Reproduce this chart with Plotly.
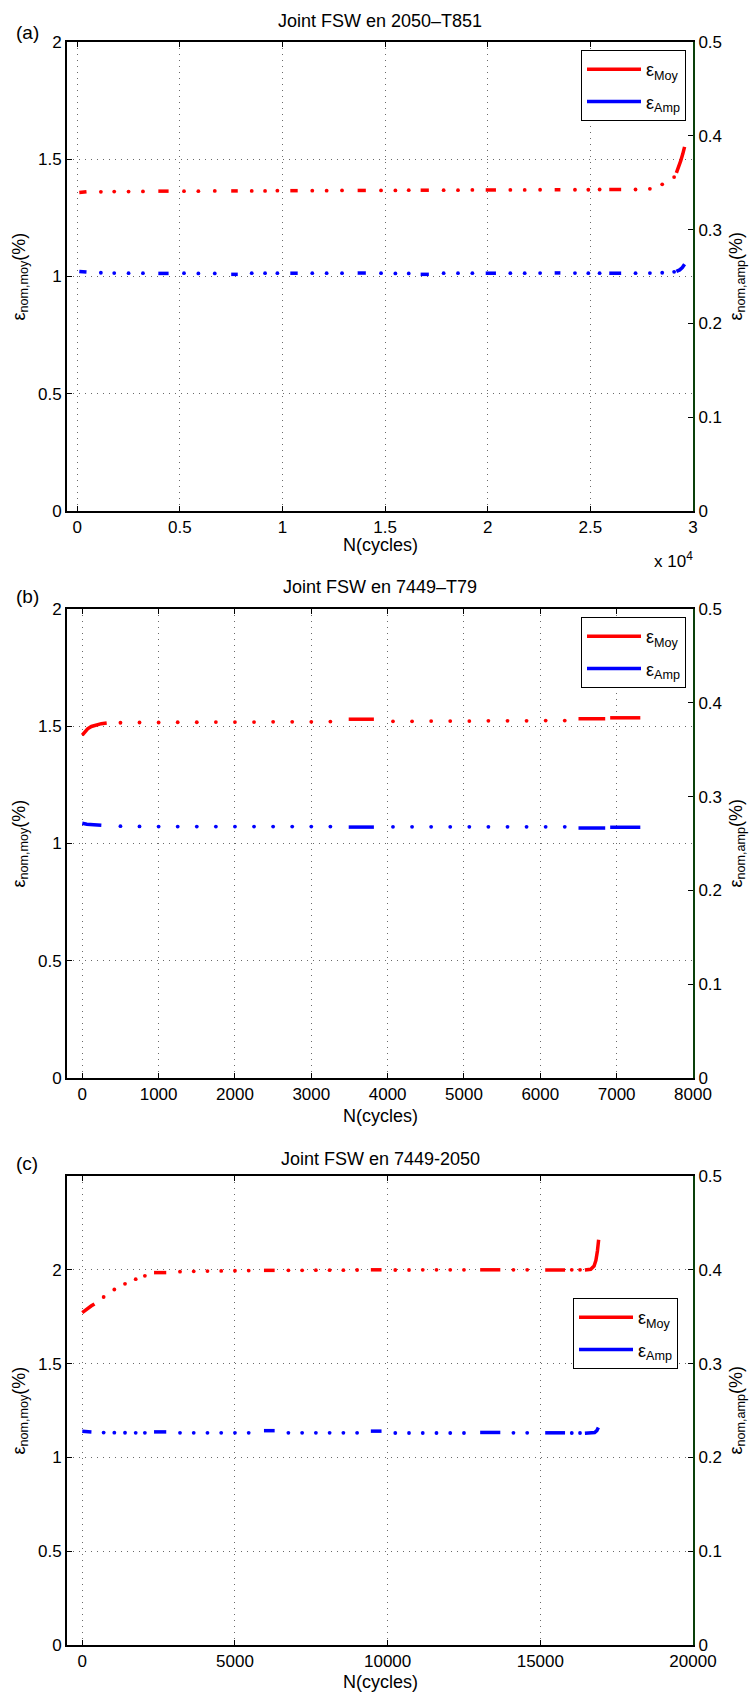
import plotly.graph_objects as go

# ======================= DATA =======================
# ---- Panel (a): Joint FSW en 2050–T851 ----
A_X_TICKS = [0, 5000, 10000, 15000, 20000, 25000, 30000]
A_X_TICKTEXT = ["0", "0.5", "1", "1.5", "2", "2.5", "3"]
A_DOT_N = [1150, 1800, 2500, 3200, 5200, 5900, 6700, 8500, 9150, 9750, 11450, 12150, 12900,
           14800, 15500, 16150, 17850, 18550, 19250, 21100, 21800, 22550, 24250, 24900, 25450,
           27200, 27900, 28500, 29080]
A_MOY_DOT_V = [1.361, 1.362, 1.362, 1.363, 1.364, 1.364, 1.365, 1.365, 1.365, 1.366, 1.366, 1.366, 1.367,
               1.367, 1.367, 1.368, 1.368, 1.368, 1.369, 1.369, 1.369, 1.370, 1.370, 1.370, 1.371,
               1.371, 1.374, 1.393, 1.424]
A_AMP_DOT_V = [0.2540, 0.2537, 0.2535, 0.2535, 0.2535, 0.2533, 0.2533, 0.2535, 0.2535, 0.2535, 0.2535, 0.2535, 0.2535,
               0.2535, 0.2533, 0.2533, 0.2535, 0.2535, 0.2535, 0.2535, 0.2535, 0.2537, 0.2537, 0.2535, 0.2535,
               0.2535, 0.2537, 0.2540, 0.2550]
A_RUN_N0 = [3950, 7500, 10380, 13660, 16730, 19900, 23260, 25920]
A_RUN_N1 = [4450, 7820, 10740, 14060, 17130, 20400, 23540, 26500]
A_MOY_RUN_V = [1.364, 1.365, 1.366, 1.367, 1.368, 1.369, 1.370, 1.371]
A_AMP_RUN_V = [0.2533, 0.2523, 0.2535, 0.2537, 0.2523, 0.2535, 0.2538, 0.2535]
A_MOY_HEAD_N = [100, 250, 450]
A_MOY_HEAD_V = [1.358, 1.360, 1.361]
A_AMP_HEAD_N = [100, 250, 450]
A_AMP_HEAD_V = [0.2553, 0.2550, 0.2547]
A_MOY_TAIL_N = [29190, 29300, 29400, 29500, 29590]
A_MOY_TAIL_V = [1.442, 1.465, 1.493, 1.522, 1.553]
A_AMP_TAIL_N = [29190, 29350, 29480, 29590]
A_AMP_TAIL_V = [0.2555, 0.2570, 0.2595, 0.2630]

# ---- Panel (b): Joint FSW en 7449–T79 ----
B_X_TICKS = [0, 1000, 2000, 3000, 4000, 5000, 6000, 7000, 8000]
B_X_TICKTEXT = ["0", "1000", "2000", "3000", "4000", "5000", "6000", "7000", "8000"]
B_DOT_N = [500, 750, 1000, 1250, 1500, 1750, 2000, 2250, 2500, 2750, 3000, 3250,
           4070, 4320, 4570, 4820, 5070, 5320, 5570, 5820, 6070, 6320]
B_MOY_DOT_V = [1.515, 1.516, 1.516, 1.517, 1.517, 1.518, 1.518, 1.518, 1.519, 1.519, 1.519, 1.520,
               1.521, 1.521, 1.522, 1.522, 1.522, 1.523, 1.523, 1.523, 1.524, 1.524]
B_AMP_DOT_V = [0.2685, 0.2682, 0.2680, 0.2680, 0.2680, 0.2680, 0.2680, 0.2680, 0.2680, 0.2680, 0.2680, 0.2680,
               0.2678, 0.2678, 0.2678, 0.2678, 0.2678, 0.2678, 0.2678, 0.2678, 0.2678, 0.2678]
B_RUN_N0 = [3490, 6500, 6915]
B_RUN_N1 = [3820, 6850, 7310]
B_MOY_RUN_V = [1.530, 1.532, 1.536]
B_AMP_RUN_V = [0.2675, 0.2665, 0.2673]
B_MOY_HEAD_N = [0, 30, 70, 120, 180, 250, 320]
B_MOY_HEAD_V = [1.462, 1.476, 1.489, 1.499, 1.506, 1.511, 1.514]
B_AMP_HEAD_N = [0, 60, 150, 250]
B_AMP_HEAD_V = [0.2715, 0.2705, 0.2700, 0.2695]
B_MOY_TAIL_N = []
B_MOY_TAIL_V = []
B_AMP_TAIL_N = []
B_AMP_TAIL_V = []

# ---- Panel (c): Joint FSW en 7449-2050 ----
C_X_TICKS = [0, 5000, 10000, 15000, 20000]
C_X_TICKTEXT = ["0", "5000", "10000", "15000", "20000"]
C_DOT_N = [700, 1050, 1400, 1750, 2050,
           3200, 3650, 4100, 4550, 5000, 5450,
           6750, 7200, 7650, 8100, 8550, 9000,
           10250, 10700, 11150, 11600, 12050, 12500,
           14120, 14570, 16030, 16300]
C_MOY_DOT_V = [1.855, 1.895, 1.925, 1.950, 1.968,
               1.990, 1.992, 1.993, 1.994, 1.995, 1.996,
               1.997, 1.997, 1.998, 1.998, 1.998, 1.999,
               1.999, 1.999, 2.000, 2.000, 2.000, 2.000,
               2.000, 2.000, 2.000, 2.000]
C_AMP_DOT_V = [0.2265, 0.2264, 0.2263, 0.2262, 0.2262,
               0.2262, 0.2262, 0.2262, 0.2262, 0.2262, 0.2262,
               0.2262, 0.2262, 0.2262, 0.2262, 0.2262, 0.2262,
               0.2260, 0.2260, 0.2260, 0.2260, 0.2260, 0.2260,
               0.2262, 0.2262, 0.2260, 0.2260]
C_RUN_N0 = [2350, 5950, 9450, 13030, 15160]
C_RUN_N1 = [2750, 6300, 9800, 13690, 15810]
C_MOY_RUN_V = [1.985, 1.997, 2.000, 2.000, 1.999]
C_AMP_RUN_V = [0.2272, 0.2285, 0.2280, 0.2266, 0.2262]
C_MOY_HEAD_N = [0, 100, 200, 300, 400]
C_MOY_HEAD_V = [1.772, 1.786, 1.798, 1.808, 1.818]
C_AMP_HEAD_N = [0, 150, 300]
C_AMP_HEAD_V = [0.2278, 0.2275, 0.2272]
C_MOY_TAIL_N = [16460, 16650, 16760, 16820, 16870, 16910]
C_MOY_TAIL_V = [1.999, 2.003, 2.020, 2.050, 2.100, 2.160]
C_AMP_TAIL_N = [16460, 16650, 16780, 16850, 16900]
C_AMP_TAIL_V = [0.2258, 0.2258, 0.2265, 0.2285, 0.2318]

TITLES = ["Joint FSW en 2050\u2013T851", "Joint FSW en 7449\u2013T79", "Joint FSW en 7449-2050"]
PANEL_LABELS = ["(a)", "(b)", "(c)"]
LEFT_TICKS = [0, 0.5, 1, 1.5, 2]
LEFT_TICKTEXT = ["0", "0.5", "1", "1.5", "2"]
RIGHT_TICKS = [0, 0.1, 0.2, 0.3, 0.4, 0.5]
RIGHT_TICKTEXT = ["0", "0.1", "0.2", "0.3", "0.4", "0.5"]
NAME_MOY = "\u03b5<sub>Moy</sub>"
NAME_AMP = "\u03b5<sub>Amp</sub>"
X_TITLE = "N(cycles)"
YL_TITLE = "\u03b5<sub>nom,moy</sub>(%)"
YR_TITLE = "\u03b5<sub>nom,amp</sub>(%)"

# ======================= STYLE / LAYOUT =======================
W, H = 750, 1695
FONT = "Liberation Sans, Arial, Helvetica, sans-serif"
RED = "#ff0000"
BLUE = "#0000ff"
GREEN = "#0a400a"
GRID = "#6a6a6a"
PLOT_LEFT, PLOT_RIGHT = 67, 693
PANEL_TOP = [42, 609, 1176]
PANEL_H = 469
X_RANGES = [[-500, 30000], [-200, 8000], [-500, 20000]]
LEFT_MAX = [2.0, 2.0, 2.5]
LEGEND_BOX = [(686, 50), (686, 617), (678, 1298)]  # right, top in px
TITLE_Y = [21, 587, 1159]
LABEL_Y = [32, 597, 1163]
XTITLE_Y = [545, 1116, 1682]
YL_TITLE_X = 20
YR_TITLE_X = 737
TICK_SIZE = 17
TEXT_SIZE = 18


def py(p):
    return 1 - p / H


def px(p):
    return p / W


def line_xy(head_n, head_v, n0, n1, v, tail_n, tail_v):
    xs, ys = list(head_n), list(head_v)
    xs.append(None)
    ys.append(None)
    for a, b, val in zip(n0, n1, v):
        xs += [a, b, None]
        ys += [val, val, None]
    xs += list(tail_n)
    ys += list(tail_v)
    return xs, ys


panels = [
    dict(xt=A_X_TICKS, xtt=A_X_TICKTEXT, dn=A_DOT_N, mdv=A_MOY_DOT_V, adv=A_AMP_DOT_V,
         r0=A_RUN_N0, r1=A_RUN_N1, mrv=A_MOY_RUN_V, arv=A_AMP_RUN_V,
         mhn=A_MOY_HEAD_N, mhv=A_MOY_HEAD_V, ahn=A_AMP_HEAD_N, ahv=A_AMP_HEAD_V,
         mtn=A_MOY_TAIL_N, mtv=A_MOY_TAIL_V, atn=A_AMP_TAIL_N, atv=A_AMP_TAIL_V),
    dict(xt=B_X_TICKS, xtt=B_X_TICKTEXT, dn=B_DOT_N, mdv=B_MOY_DOT_V, adv=B_AMP_DOT_V,
         r0=B_RUN_N0, r1=B_RUN_N1, mrv=B_MOY_RUN_V, arv=B_AMP_RUN_V,
         mhn=B_MOY_HEAD_N, mhv=B_MOY_HEAD_V, ahn=B_AMP_HEAD_N, ahv=B_AMP_HEAD_V,
         mtn=B_MOY_TAIL_N, mtv=B_MOY_TAIL_V, atn=B_AMP_TAIL_N, atv=B_AMP_TAIL_V),
    dict(xt=C_X_TICKS, xtt=C_X_TICKTEXT, dn=C_DOT_N, mdv=C_MOY_DOT_V, adv=C_AMP_DOT_V,
         r0=C_RUN_N0, r1=C_RUN_N1, mrv=C_MOY_RUN_V, arv=C_AMP_RUN_V,
         mhn=C_MOY_HEAD_N, mhv=C_MOY_HEAD_V, ahn=C_AMP_HEAD_N, ahv=C_AMP_HEAD_V,
         mtn=C_MOY_TAIL_N, mtv=C_MOY_TAIL_V, atn=C_AMP_TAIL_N, atv=C_AMP_TAIL_V),
]

fig = go.Figure()
layout = dict(
    width=W, height=H,
    margin=dict(l=0, r=0, t=0, b=0),
    paper_bgcolor="white", plot_bgcolor="white",
    font=dict(family=FONT, size=TICK_SIZE, color="black"),
    annotations=[],
)

for i, p in enumerate(panels):
    xid = "x" if i == 0 else f"x{i + 1}"
    yl_n = 2 * i + 1
    yr_n = 2 * i + 2
    ylid = "y" if yl_n == 1 else f"y{yl_n}"
    yrid = f"y{yr_n}"
    leg = "legend" if i == 0 else f"legend{i + 1}"

    mx, my = line_xy(p["mhn"], p["mhv"], p["r0"], p["r1"], p["mrv"], p["mtn"], p["mtv"])
    ax_, ay_ = line_xy(p["ahn"], p["ahv"], p["r0"], p["r1"], p["arv"], p["atn"], p["atv"])

    fig.add_trace(go.Scatter(x=mx, y=my, mode="lines", name=NAME_MOY,
                             line=dict(color=RED, width=3.5), xaxis=xid, yaxis=ylid,
                             legend=leg, legendgroup=f"moy{i}", connectgaps=False,
                             hoverinfo="skip"))
    fig.add_trace(go.Scatter(x=ax_, y=ay_, mode="lines", name=NAME_AMP,
                             line=dict(color=BLUE, width=3.5), xaxis=xid, yaxis=yrid,
                             legend=leg, legendgroup=f"amp{i}", connectgaps=False,
                             hoverinfo="skip"))
    fig.add_trace(go.Scatter(x=p["dn"], y=p["mdv"], mode="markers", showlegend=False,
                             legendgroup=f"moy{i}",
                             marker=dict(color=RED, size=3.8), xaxis=xid, yaxis=ylid))
    fig.add_trace(go.Scatter(x=p["dn"], y=p["adv"], mode="markers", showlegend=False,
                             legendgroup=f"amp{i}",
                             marker=dict(color=BLUE, size=3.8), xaxis=xid, yaxis=yrid))

    top = PANEL_TOP[i]
    ydom = [py(top + PANEL_H), py(top)]
    xname = "xaxis" if i == 0 else f"xaxis{i + 1}"
    ylname = "yaxis" if yl_n == 1 else f"yaxis{yl_n}"
    yrname = f"yaxis{yr_n}"

    layout[xname] = dict(
        domain=[px(PLOT_LEFT), px(PLOT_RIGHT)], anchor=ylid, range=X_RANGES[i],
        tickmode="array", tickvals=p["xt"], ticktext=p["xtt"],
        ticks="inside", ticklen=5, tickwidth=1, tickcolor="black",
        showline=True, linecolor="black", linewidth=2, mirror="ticks",
        showgrid=True, gridcolor=GRID, gridwidth=1, griddash="1px,5px",
        zeroline=False, automargin=False,
        tickfont=dict(size=TICK_SIZE, color="black", family=FONT),
    )
    layout[ylname] = dict(
        domain=ydom, anchor=xid, range=[0, LEFT_MAX[i]],
        tickmode="array", tickvals=LEFT_TICKS, ticktext=LEFT_TICKTEXT,
        ticks="inside", ticklen=5, tickwidth=1, tickcolor="black",
        showline=True, linecolor="black", linewidth=2,
        showgrid=True, gridcolor=GRID, gridwidth=1, griddash="1px,5px",
        zeroline=False, automargin=False,
        tickfont=dict(size=TICK_SIZE, color="black", family=FONT),
    )
    layout[yrname] = dict(
        overlaying=ylid, side="right", anchor=xid, range=[0, 0.5],
        tickmode="array", tickvals=RIGHT_TICKS, ticktext=RIGHT_TICKTEXT,
        ticks="inside", ticklen=5, tickwidth=1, tickcolor="black",
        showline=True, linecolor=GREEN, linewidth=2,
        showgrid=False, zeroline=False, automargin=False,
        tickfont=dict(size=TICK_SIZE, color="black", family=FONT),
    )
    lr, lt = LEGEND_BOX[i]
    layout[leg] = dict(
        x=px(lr), y=py(lt), xanchor="right", yanchor="top",
        bgcolor="white", bordercolor="black", borderwidth=1,
        font=dict(size=TEXT_SIZE, family=FONT, color="black"),
        traceorder="grouped", tracegroupgap=6, itemwidth=54,
    )
    ymid = py(top + PANEL_H / 2)
    layout["annotations"] += [
        dict(text=TITLES[i], x=px((PLOT_LEFT + PLOT_RIGHT) / 2), y=py(TITLE_Y[i]),
             xref="paper", yref="paper", xanchor="center", yanchor="middle",
             showarrow=False, font=dict(size=TEXT_SIZE, family=FONT, color="black")),
        dict(text=PANEL_LABELS[i], x=px(14), y=py(LABEL_Y[i]),
             xref="paper", yref="paper", xanchor="left", yanchor="middle",
             showarrow=False, font=dict(size=19, family=FONT, color="black")),
        dict(text=X_TITLE, x=px((PLOT_LEFT + PLOT_RIGHT) / 2), y=py(XTITLE_Y[i]),
             xref="paper", yref="paper", xanchor="center", yanchor="middle",
             showarrow=False, font=dict(size=TEXT_SIZE, family=FONT, color="black")),
        dict(text=YL_TITLE, x=px(YL_TITLE_X), y=ymid, textangle=-90,
             xref="paper", yref="paper", xanchor="center", yanchor="middle",
             showarrow=False, font=dict(size=TEXT_SIZE, family=FONT, color="black")),
        dict(text=YR_TITLE, x=px(YR_TITLE_X), y=ymid, textangle=-90,
             xref="paper", yref="paper", xanchor="center", yanchor="middle",
             showarrow=False, font=dict(size=TEXT_SIZE, family=FONT, color="black")),
    ]

layout["annotations"].append(dict(
    text="x 10<sup>4</sup>", x=px(695), y=py(560), xref="paper", yref="paper",
    xanchor="right", yanchor="middle", showarrow=False,
    font=dict(size=TICK_SIZE, family=FONT, color="black")))

fig.update_layout(**layout)
fig.write_html(
    "out.html",
    config={"displayModeBar": False},
    post_script="document.body.style.margin='0px';document.body.style.padding='0px';"
                "document.documentElement.style.overflow='hidden';",
)
